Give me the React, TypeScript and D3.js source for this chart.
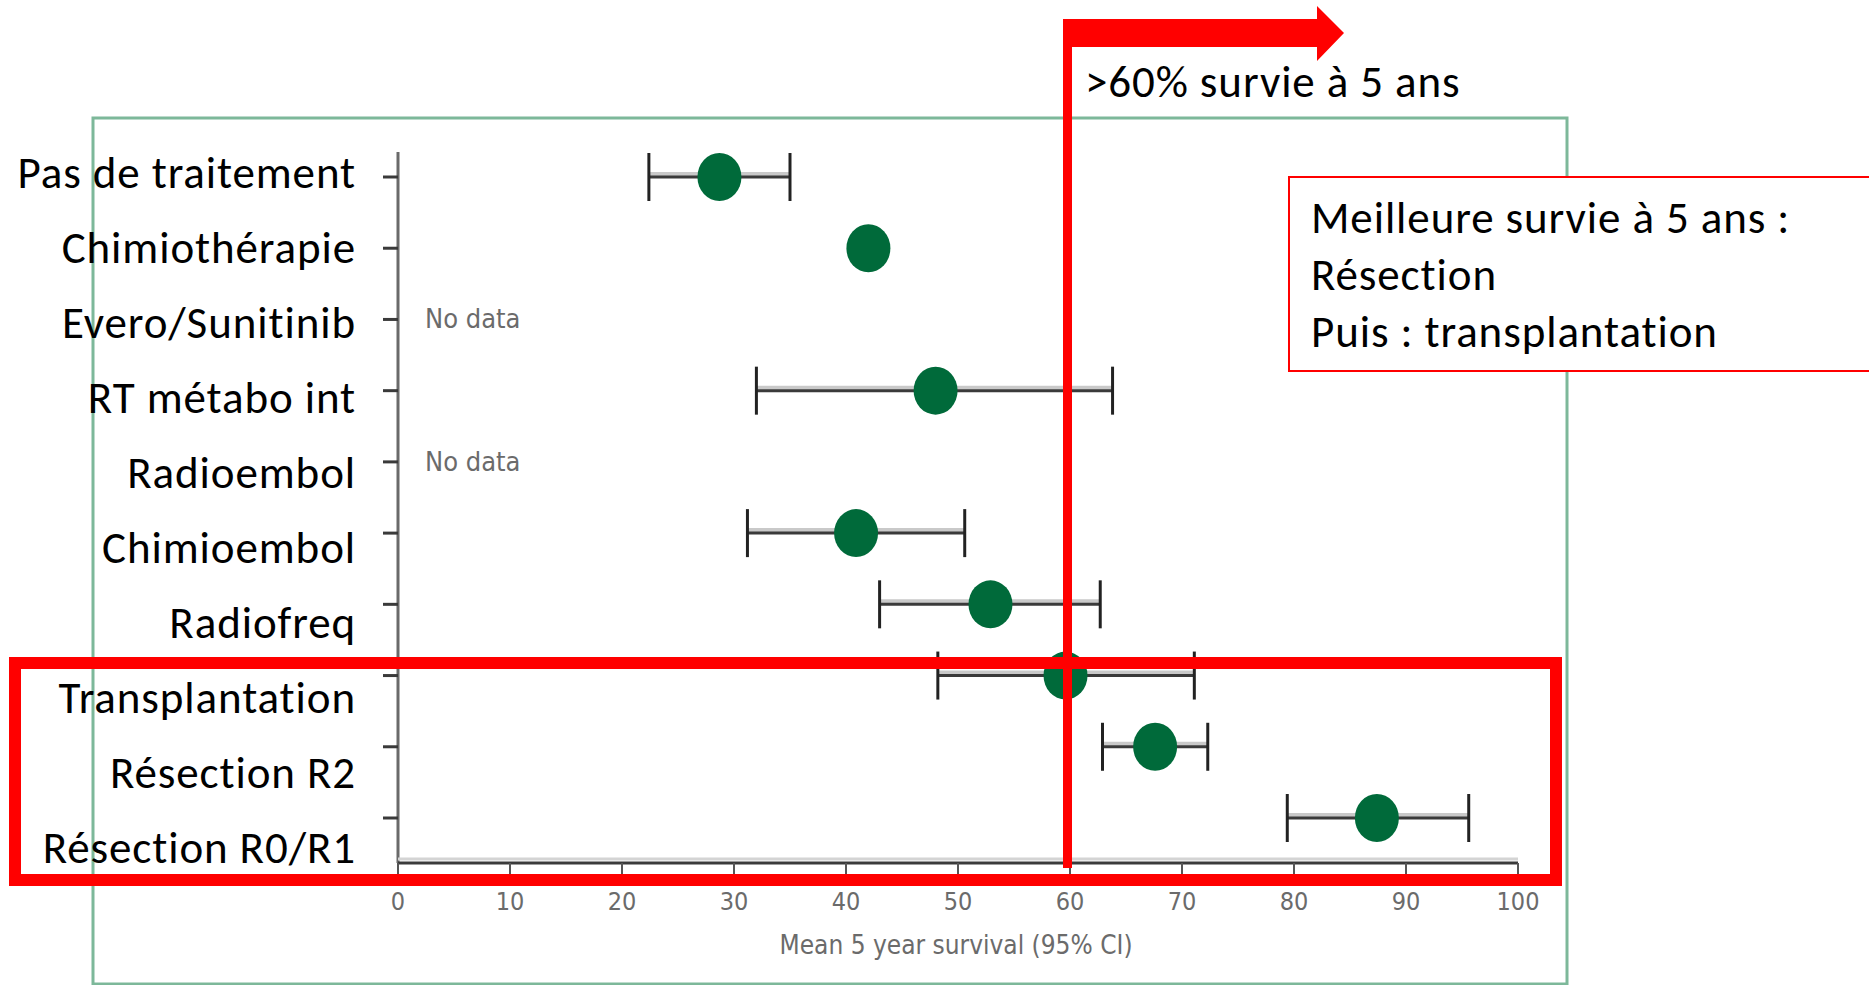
import React from 'react';
import * as d3 from 'd3';

const categories = [
  'Pas de traitement',
  'Chimiothérapie',
  'Evero/Sunitinib',
  'RT métabo int',
  'Radioembol',
  'Chimioembol',
  'Radiofreq',
  'Transplantation',
  'Résection R2',
  'Résection R0/R1',
];
const means = [28.7, 42, null, 48, null, 40.9, 52.9, 59.6, 67.6, 87.4];
const lower = [22.4, null, null, 32, null, 31.2, 43, 48.2, 62.9, 79.4];
const upper = [35, null, null, 63.8, null, 50.6, 62.7, 71.1, 72.3, 95.6];
const xTicks = [0, 10, 20, 30, 40, 50, 60, 70, 80, 90, 100];
const threshold = 60;
const noteLines = ['Meilleure survie à 5 ans :', 'Résection', 'Puis : transplantation'];

const W = 1869;
const H = 985;
const labelFont = "Carlito, Lato, 'Open Sans', sans-serif";
const axisFont = "'Liberation Sans Narrow', 'DejaVu Sans Condensed', 'Roboto', sans-serif";

export default function App() {
  const x = d3.scaleLinear().domain([0, 100]).range([398, 1518]);
  const y = d3.scalePoint<string>().domain(categories).range([177, 818]);
  // the French labels were typed over the figure, slightly looser than the rows
  const yLabel = d3.scalePoint<string>().domain(categories).range([188, 863]);
  const axisY = 863;
  const redX = x(threshold) - 7;

  return (
    <svg width={W} height={H} style={{ position: 'absolute', left: 0, top: 0, background: '#fff' }}>
      {/* green frame of the original figure */}
      <rect x={93} y={118} width={1474} height={866} fill="none" stroke="#7db89a" strokeWidth={3} />

      {/* y axis */}
      <line x1={x(0)} x2={x(0)} y1={152} y2={axisY} stroke="#6a6a6a" strokeWidth={3} />
      {categories.map((c) => (
        <line key={c} x1={x(0) - 15} x2={x(0)} y1={y(c)} y2={y(c)} stroke="#3a3a3a" strokeWidth={3} />
      ))}

      {/* x axis */}
      <line x1={x(0)} x2={x(100)} y1={axisY - 4} y2={axisY - 4} stroke="#d4d4d4" strokeWidth={3} />
      <line x1={x(0)} x2={x(100)} y1={axisY} y2={axisY} stroke="#3a3a3a" strokeWidth={3} />
      {xTicks.map((t) => (
        <g key={t}>
          <line x1={x(t)} x2={x(t)} y1={axisY} y2={axisY + 11} stroke="#555" strokeWidth={2} />
          <text x={x(t)} y={910} textAnchor="middle" fontFamily={axisFont} fontSize={25} fill="#6b6b6b">
            {t}
          </text>
        </g>
      ))}
      <text x={x(50) - 2} y={954} textAnchor="middle" fontFamily={axisFont} fontSize={26} fill="#6b6b6b">
        Mean 5 year survival (95% CI)
      </text>

      {/* category labels */}
      {categories.map((c) => (
        <text
          key={c}
          x={356}
          y={yLabel(c)}
          textAnchor="end"
          fontFamily={labelFont}
          fontSize={45}
          letterSpacing={0.9}
          fill="#000"
        >
          {c}
        </text>
      ))}

      {/* error bars and points */}
      {categories.map((c, i) => {
        const cy = y(c) as number;
        if (means[i] == null) {
          return (
            <text key={c} x={425} y={cy + 9} fontFamily={axisFont} fontSize={27} fill="#6b6b6b">
              No data
            </text>
          );
        }
        const lo = lower[i];
        const hi = upper[i];
        return (
          <g key={c}>
            {lo != null && hi != null && (
              <g>
                <line x1={x(lo)} x2={x(hi)} y1={cy - 3} y2={cy - 3} stroke="#c9c9c9" strokeWidth={4} />
                <line x1={x(lo)} x2={x(hi)} y1={cy} y2={cy} stroke="#3a3a3a" strokeWidth={3} />
                <line x1={x(lo)} x2={x(lo)} y1={cy - 24} y2={cy + 24} stroke="#222" strokeWidth={3} />
                <line x1={x(hi)} x2={x(hi)} y1={cy - 24} y2={cy + 24} stroke="#222" strokeWidth={3} />
              </g>
            )}
            <ellipse cx={x(means[i] as number)} cy={cy} rx={22} ry={24} fill="#006a3a" />
          </g>
        );
      })}

      {/* red highlight box */}
      <rect x={15} y={663} width={1541} height={217} fill="none" stroke="#ff0000" strokeWidth={12} />

      {/* threshold line and arrow */}
      <rect x={redX} y={19} width={9} height={849} fill="#ff0000" />
      <path d={`M${redX},19 H1317 V6 L1344,33 L1317,61 V47 H${redX} Z`} fill="#ff0000" />
      <text x={1085} y={97} fontFamily={labelFont} fontSize={45} letterSpacing={0.9} fill="#000">
        {'>60% survie à 5 ans'}
      </text>

      {/* annotation box */}
      <rect x={1289} y={177} width={600} height={194} fill="#fff" stroke="#ff0000" strokeWidth={2} />
      {noteLines.map((l, i) => (
        <text key={l} x={1311} y={233 + i * 57} fontFamily={labelFont} fontSize={45} letterSpacing={0.9} fill="#000">
          {l}
        </text>
      ))}
    </svg>
  );
}
